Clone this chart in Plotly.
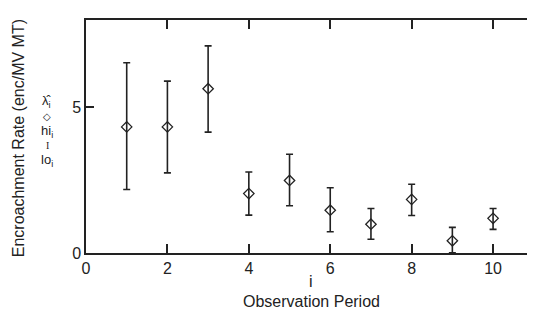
import plotly.graph_objects as go

periods = [1, 2, 3, 4, 5, 6, 7, 8, 9, 10]
rate = [4.33, 4.33, 5.64, 2.04, 2.49, 1.47, 0.99, 1.84, 0.42, 1.19]
hi = [6.53, 5.90, 7.11, 2.78, 3.39, 2.24, 1.53, 2.36, 0.88, 1.53]
lo = [2.18, 2.75, 4.15, 1.30, 1.62, 0.73, 0.47, 1.29, 0.01, 0.81]
x_ticks = [0, 2, 4, 6, 8, 10]
y_ticks = [0, 5]

err_plus = [h - r for h, r in zip(hi, rate)]
err_minus = [r - l for r, l in zip(rate, lo)]

FONT = "Liberation Sans, Arial, Helvetica, sans-serif"
SERIF = "Liberation Serif, DejaVu Serif, serif"
INK = "#222"

# page body has an 8px margin; size the figure so it ends at the window edge
OFF = 8
W, H = 535 - OFF, 324 - OFF
L, T, B, R = 86 - OFF, 19.5 - OFF, 71, 0

fig = go.Figure()
fig.add_trace(go.Scatter(
    x=periods, y=rate, mode="markers",
    marker=dict(symbol="diamond-open", size=8, color=INK, line=dict(width=1.3, color=INK)),
    error_y=dict(type="data", symmetric=False, array=err_plus, arrayminus=err_minus,
                 color=INK, thickness=1.6, width=3.5),
    showlegend=False,
))

fig.update_layout(
    width=W, height=H,
    margin=dict(l=L, r=R, t=T, b=B, pad=0, autoexpand=False),
    paper_bgcolor="white", plot_bgcolor="white",
    font=dict(family=FONT, size=16, color=INK),
    xaxis=dict(range=[0, 11.03], tickvals=x_ticks, ticktext=[str(v) for v in x_ticks],
               ticks="inside", ticklen=9, tickwidth=1.5, tickcolor=INK,
               showline=True, linecolor=INK, linewidth=1.5, mirror="ticks",
               showgrid=False, zeroline=False, tickfont=dict(size=16, color=INK)),
    yaxis=dict(range=[0, 8.0], tickvals=y_ticks, ticktext=[str(v) for v in y_ticks],
               ticks="inside", ticklen=8, tickwidth=1.5, tickcolor=INK,
               showline=True, linecolor=INK, linewidth=1.5, mirror=True,
               showgrid=False, zeroline=False, tickfont=dict(size=16, color=INK)),
)

# annotation positions in window pixels
ann = []
ann.append(dict(text="Encroachment Rate (enc/MV MT)", textangle=-90, x=18, y=138, size=16))
items = [("λ̂<sub>i</sub>", 101, 13, FONT), ("◇", 116, 10, FONT), ("hi<sub>i</sub>", 131, 13, FONT),
         ("I", 145, 10, SERIF), ("lo<sub>i</sub>", 160, 13, FONT)]
for txt, ypix, sz, fam in items:
    ann.append(dict(text=txt, x=47, y=ypix, size=sz, family=fam))
ann.append(dict(text="i", x=311, y=282, size=16))
ann.append(dict(text="Observation Period", x=311, y=302, size=16))

pw, ph = W - L - R, H - T - B
final = []
for a in ann:
    fx, fy = a["x"] - OFF, a["y"] - OFF
    final.append(dict(
        text=a["text"], textangle=a.get("textangle", 0), showarrow=False,
        xref="paper", yref="paper",
        x=(fx - L) / pw, y=(H - B - fy) / ph,
        xanchor="center", yanchor="middle",
        font=dict(family=a.get("family", FONT), size=a["size"], color=INK),
    ))
fig.update_layout(annotations=final)

fig.write_html("out.html")
